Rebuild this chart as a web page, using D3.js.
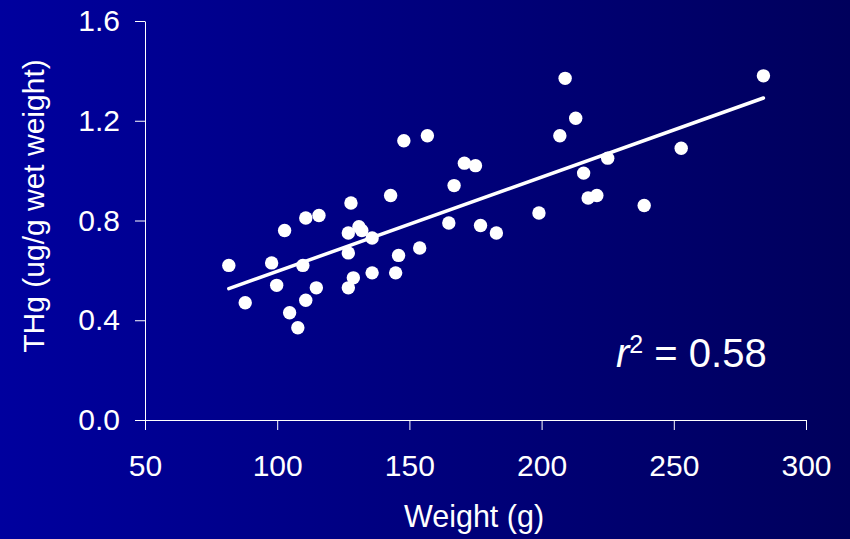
<!DOCTYPE html>
<html>
<head>
<meta charset="utf-8">
<script src="https://cdn.jsdelivr.net/npm/d3@7"></script>
<style>
  body { margin: 0; background: #000080; }
  .graph text { font-family: "Liberation Sans", Arial, sans-serif; fill: #ffffff; }
</style>
</head>
<body>
<div class="graph"><svg id="chart" width="850" height="539"></svg></div>
<script>
// weight (g) of each fish
const weights = [81.7, 87.9, 97.9, 99.8, 102.8, 104.7, 107.8, 109.7, 110.8, 110.8,
  114.8, 115.8, 126.9, 126.9, 126.9, 127.9, 128.8, 130.9, 132.0, 135.9,
  135.9, 142.9, 144.8, 145.9, 147.9, 153.9, 156.8, 164.9, 166.9, 170.8,
  175.0, 176.9, 182.9, 199.0, 206.9, 208.9, 212.9, 215.9, 217.6, 220.9,
  225.0, 238.8, 252.8, 283.9]
// total mercury, ug/g wet weight
const thg = [0.62, 0.47, 0.63, 0.54, 0.76, 0.43, 0.37, 0.62, 0.81, 0.48,
  0.53, 0.82, 0.75, 0.67, 0.53, 0.87, 0.57, 0.775, 0.76, 0.73,
  0.59, 0.90, 0.59, 0.66, 1.12, 0.69, 1.14, 0.79, 0.94, 1.03,
  1.02, 0.78, 0.75, 0.83, 1.14, 1.37, 1.21, 0.99, 0.89, 0.90,
  1.05, 0.86, 1.09, 1.38]
const xTicks = [50, 100, 150, 200, 250, 300]
const yTicks = [0.0, 0.4, 0.8, 1.2, 1.6]
// fitted line THg = a + b * weight
const fitIntercept = 0.218
const fitSlope = 0.00378
const r2Label = '0.58'

const margin = { left: 145, top: 21 }
const width = 661
const height = 399

const svg = d3.select('#chart')

const grad = svg.append('defs').append('linearGradient')
  .attr('id', 'bg')
  .attr('x1', '0%').attr('y1', '0%')
  .attr('x2', '100%').attr('y2', '0%')
grad.append('stop').attr('offset', '0%').attr('stop-color', '#00009e')
grad.append('stop').attr('offset', '100%').attr('stop-color', '#00005c')

svg.append('rect')
  .attr('width', 850)
  .attr('height', 539)
  .attr('fill', 'url(#bg)')

const g = svg.append('g')
  .attr('transform', 'translate(' + margin.left + ',' + margin.top + ')')

const x = d3.scaleLinear().domain([50, 300]).range([0, width])
const y = d3.scaleLinear().domain([0, 1.6]).range([height, 0])

g.append('g')
  .attr('class', 'y-axis')
  .call(d3.axisLeft(y).tickValues(yTicks).tickSize(10).tickSizeOuter(0)
    .tickPadding(15).tickFormat(d3.format('.1f')))

g.append('g')
  .attr('class', 'x-axis')
  .attr('transform', `translate(0,${height})`)
  .call(d3.axisBottom(x).tickValues(xTicks).tickSize(10).tickSizeOuter(0)
    .tickPadding(25))

g.selectAll('.domain, .tick line').attr('stroke', '#ffffff').attr('stroke-width', 1)
g.selectAll('.tick text').attr('font-size', '30px').attr('fill', '#ffffff')
  .attr('font-family', '"Liberation Sans", Arial, sans-serif')

// trend line over the range of the data
const xExtent = d3.extent(weights)
g.append('line')
  .attr('x1', x(xExtent[0]))
  .attr('y1', y(fitIntercept + fitSlope * xExtent[0]))
  .attr('x2', x(xExtent[1]))
  .attr('y2', y(fitIntercept + fitSlope * xExtent[1]))
  .attr('stroke', '#ffffff')
  .attr('stroke-width', 3.5)
  .attr('stroke-linecap', 'round')

g.selectAll('circle.dot')
  .data(weights.map((w, i) => ({ w: w, v: thg[i] })))
  .enter()
  .append('circle')
  .attr('class', 'dot')
  .attr('cx', d => x(d.w))
  .attr('cy', d => y(d.v))
  .attr('r', 6.7)
  .attr('fill', '#ffffff')

svg.append('text')
  .attr('x', 474)
  .attr('y', 527)
  .attr('text-anchor', 'middle')
  .attr('font-size', '30.5px')
  .text('Weight (g)')

svg.append('text')
  .attr('transform', 'translate(44,206) rotate(-90)')
  .attr('text-anchor', 'middle')
  .attr('font-size', '30px')
  .text('THg (ug/g wet weight)')

const r2 = svg.append('text')
  .attr('x', 616)
  .attr('y', 367)
  .attr('font-size', '40px')
r2.append('tspan').attr('font-style', 'italic').text('r')
r2.append('tspan').attr('font-size', '25px').attr('dy', -14).text('2')
r2.append('tspan').attr('dy', 14).text(' = ' + r2Label)
</script>
</body>
</html>
